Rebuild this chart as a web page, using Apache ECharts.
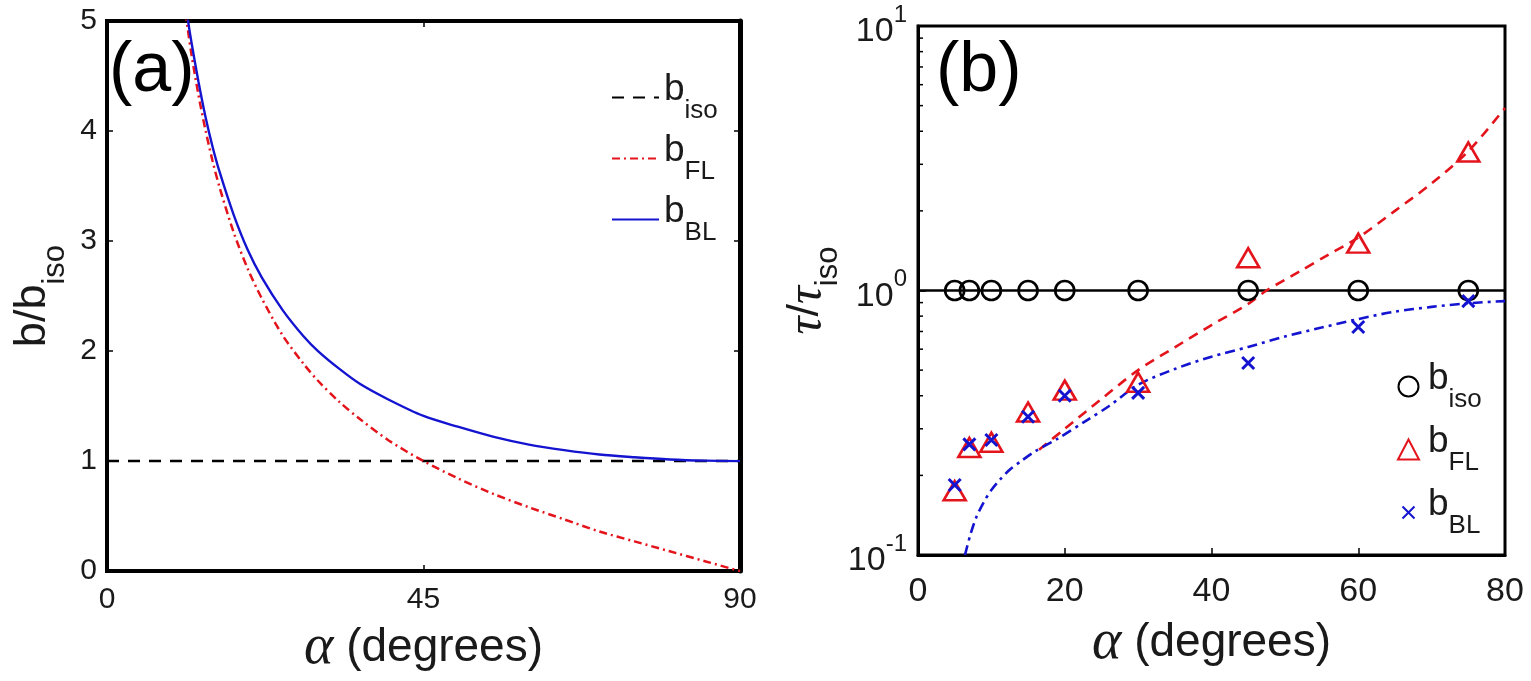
<!DOCTYPE html>
<html><head><meta charset="utf-8">
<script src="https://cdn.jsdelivr.net/npm/echarts@6/dist/echarts.min.js"></script>
<style>html,body{margin:0;padding:0;background:#fff}#c{width:1531px;height:681px}</style>
</head><body><div id="c"></div>
<script>
// ---------- Panel (a) data ----------
const alphaA = [10.5, 11, 11.5, 12, 13, 14, 15, 16, 18, 20, 22, 25, 28, 30, 33, 36, 40, 45, 50, 55, 60, 65, 70, 75, 80, 85, 90];
const bFL    = [5.40, 5.14, 4.92, 4.70, 4.33, 4.01, 3.73, 3.49, 3.08, 2.75, 2.48, 2.14, 1.88, 1.73, 1.54, 1.38, 1.19, 1.00, 0.84, 0.70, 0.58, 0.47, 0.36, 0.27, 0.18, 0.09, 0.00];
const bBL    = [5.49, 5.24, 5.01, 4.81, 4.45, 4.13, 3.86, 3.63, 3.24, 2.92, 2.67, 2.37, 2.13, 2.00, 1.84, 1.70, 1.56, 1.41, 1.31, 1.22, 1.15, 1.10, 1.06, 1.035, 1.015, 1.004, 1.00];
const isoAlphaA = [0, 90];
const bIso      = [1, 1];

// ---------- Panel (b) data ----------
const alphaB = [5, 7, 10, 15, 20, 30, 45, 60, 75];
const tauIso = [1, 1, 1, 1, 1, 1, 1, 1, 1];
const tauFL  = [0.175, 0.255, 0.267, 0.347, 0.42, 0.45, 1.33, 1.51, 3.34];
const tauBL  = [0.184, 0.262, 0.272, 0.333, 0.40, 0.41, 0.532, 0.728, 0.912];
const isoLineAlpha = [0, 80];
const isoLineTau   = [1, 1];
const fitAlphaFL = [16.5, 20, 24.8, 30, 35, 40, 45, 47.5, 52, 56, 60, 65, 70, 75, 80];
const fitFL      = [0.25, 0.30, 0.385, 0.50, 0.61, 0.74, 0.89, 1.0, 1.18, 1.37, 1.585, 2.0, 2.54, 3.36, 4.9];
const fitAlphaBL = [6.4, 7.2, 8, 9, 10, 11.2, 12.5, 14, 16, 19, 23, 26, 30, 35, 40, 45, 50, 55, 60, 65, 70, 75, 80];
const fitBL      = [0.10, 0.121, 0.140, 0.159, 0.176, 0.193, 0.210, 0.226, 0.247, 0.275, 0.323, 0.365, 0.44, 0.505, 0.562, 0.612, 0.67, 0.724, 0.78, 0.832, 0.867, 0.895, 0.912];
const logMinorTicks = [0.2, 0.3, 0.4, 0.5, 0.6, 0.7, 0.8, 0.9, 2, 3, 4, 5, 6, 7, 8, 9];

const F = '"Liberation Sans", Arial, Helvetica, sans-serif';
const SERIF = '"Liberation Serif", "Times New Roman", serif';
const RED = '#e3141c';
const BLUE = '#1414d0';
const TXT = '#1a1a1a';

const zip = (xs, ys) => xs.map((x, i) => [x, ys[i]]);

const chart = echarts.init(document.getElementById('c'), null, {renderer: 'canvas'});

const legendNames = {isoA: 'iso', flA: 'FL', blA: 'BL', isoB: 'iso', flB: 'FL', blB: 'BL'};

const subRich = (padLeft) => ({
  b: {fontSize: 37, fontFamily: F, color: TXT, lineHeight: 44, verticalAlign: 'top', padding: [0, 0, 0, padLeft]},
  s: {fontSize: 26, fontFamily: F, color: TXT, verticalAlign: 'bottom', padding: [27, 0, 0, 0]}
});

const nameStyle = {
  fontSize: 46, fontFamily: F, color: TXT,
  rich: {a: {fontSize: 56, fontFamily: SERIF, fontStyle: 'italic', color: TXT}}
};

const crossIcon = 'path://M0,0L0.01,0M20,20L20.01,20M4,4L16,16M16,4L4,16';

const option = {
  backgroundColor: '#fff',
  animation: false,
  grid: [
    {left: 107, top: 21, width: 633, height: 552, show: true, borderColor: '#000', borderWidth: 4, backgroundColor: 'transparent'},
    {left: 918, top: 26, width: 587, height: 529, show: true, borderColor: '#000', borderWidth: 3, backgroundColor: 'transparent'}
  ],
  graphic: [
    {type: 'text', left: 109, top: 37, style: {text: '(a)', font: '70px ' + F, fill: '#000'}},
    {type: 'text', left: 936, top: 37, style: {text: '(b)', font: '70px ' + F, fill: '#000'}}
  ],
  legend: [
    {
      data: ['isoA', 'flA', 'blA'],
      orient: 'vertical', left: 606, top: 66, itemWidth: 47, itemHeight: 14, itemGap: 8,
      selectedMode: false,
      itemStyle: {opacity: 0},
      formatter: n => '{b|b}{s|' + legendNames[n] + '}',
      textStyle: {rich: subRich(0)}
    },
    {
      data: [
        {name: 'isoB'},
        {name: 'flB'},
        {name: 'blB', icon: crossIcon}
      ],
      orient: 'vertical', left: 1392, top: 355, itemWidth: 21, itemHeight: 20, itemGap: 10,
      selectedMode: false,
      formatter: n => '{b|b}{s|' + legendNames[n] + '}',
      textStyle: {rich: subRich(4)}
    }
  ],
  xAxis: [
    {
      type: 'value', gridIndex: 0, min: 0, max: 90, interval: 45, position: 'bottom',
      axisLine: {show: true, onZero: false, lineStyle: {color: '#000', width: 4}},
      axisTick: {show: true, inside: true, length: 6, lineStyle: {color: '#000', width: 1.5}},
      axisLabel: {fontSize: 30, fontFamily: F, color: TXT, margin: 14},
      splitLine: {show: false},
      name: '{a|α} (degrees)', nameLocation: 'middle', nameGap: 42,
      nameTextStyle: nameStyle
    },
    {
      type: 'value', gridIndex: 0, min: 0, max: 90, interval: 45, position: 'top',
      axisLine: {show: true, onZero: false, lineStyle: {color: '#000', width: 4}},
      axisTick: {show: true, inside: true, length: 6, lineStyle: {color: '#000', width: 1.5}},
      axisLabel: {show: false}, splitLine: {show: false}
    },
    {
      type: 'value', gridIndex: 1, min: 0, max: 80, interval: 20, position: 'bottom',
      axisLine: {show: true, onZero: false, lineStyle: {color: '#000', width: 3}},
      axisTick: {show: true, inside: true, length: 7, lineStyle: {color: '#000', width: 1.5}},
      axisLabel: {fontSize: 34, fontFamily: F, color: TXT, margin: 20},
      splitLine: {show: false},
      name: '{a|α} (degrees)', nameLocation: 'middle', nameGap: 60,
      nameTextStyle: nameStyle
    }
  ],
  yAxis: [
    {
      type: 'value', gridIndex: 0, min: 0, max: 5, interval: 1, position: 'left',
      axisLine: {show: true, onZero: false, lineStyle: {color: '#000', width: 4}},
      axisTick: {show: true, inside: true, length: 6, lineStyle: {color: '#000', width: 1.5}},
      axisLabel: {fontSize: 30, fontFamily: F, color: TXT, margin: 10},
      splitLine: {show: false},
      name: '{m|b/b}{s|iso}', nameLocation: 'middle', nameGap: 36, nameRotate: 90,
      nameTextStyle: {
        rich: {
          m: {fontSize: 45, fontFamily: F, color: TXT, lineHeight: 50, verticalAlign: 'top'},
          s: {fontSize: 31, fontFamily: F, color: TXT, verticalAlign: 'bottom', padding: [30, 0, 0, 0]}
        }
      }
    },
    {
      type: 'value', gridIndex: 0, min: 0, max: 5, interval: 1, position: 'right',
      axisLine: {show: true, onZero: false, lineStyle: {color: '#000', width: 5}},
      axisTick: {show: true, inside: true, length: 6, lineStyle: {color: '#000', width: 1.5}},
      axisLabel: {show: false}, splitLine: {show: false}
    },
    {
      type: 'log', logBase: 10, gridIndex: 1, min: 0.1, max: 10, position: 'left',
      axisLine: {show: true, onZero: false, lineStyle: {color: '#000', width: 3}},
      axisTick: {show: true, inside: true, length: 8, lineStyle: {color: '#000', width: 1.5}},
      axisLabel: {
        fontFamily: F, color: TXT, margin: 11,
        formatter: v => '{m|10}{e|' + Math.round(Math.log10(v)) + '}',
        rich: {
          m: {fontSize: 34, fontFamily: F, color: TXT, lineHeight: 46, verticalAlign: 'bottom'},
          e: {fontSize: 24, fontFamily: F, color: TXT, lineHeight: 26, verticalAlign: 'top'}
        }
      },
      splitLine: {show: false}, minorTick: {show: false},
      name: '{t|τ}{m|/}{t|τ}{s|iso}', nameLocation: 'middle', nameGap: 62, nameRotate: 90,
      nameTextStyle: {
        rich: {
          t: {fontSize: 50, fontFamily: SERIF, fontStyle: 'italic', color: TXT, lineHeight: 50, verticalAlign: 'top'},
          m: {fontSize: 45, fontFamily: F, color: TXT, lineHeight: 50, verticalAlign: 'top'},
          s: {fontSize: 31, fontFamily: F, color: TXT, verticalAlign: 'bottom', padding: [30, 0, 0, 0]}
        }
      }
    }
  ],
  series: [
    // Panel (a)
    {name: 'isoA', type: 'line', xAxisIndex: 0, yAxisIndex: 0, data: zip(isoAlphaA, bIso), symbol: 'none',
      lineStyle: {color: '#000', width: 2.5, type: [12, 9]}, itemStyle: {color: '#000'}},
    {name: 'flA', type: 'line', xAxisIndex: 0, yAxisIndex: 0, data: zip(alphaA, bFL), symbol: 'none', smooth: 0.3,
      lineStyle: {color: RED, width: 2.5, type: [8, 4, 2, 4]}, itemStyle: {color: RED}},
    {name: 'blA', type: 'line', xAxisIndex: 0, yAxisIndex: 0, data: zip(alphaA, bBL), symbol: 'none', smooth: 0.3,
      lineStyle: {color: BLUE, width: 2.4}, itemStyle: {color: BLUE}},
    // Panel (b)
    {name: 'isoLineB', type: 'line', xAxisIndex: 2, yAxisIndex: 2, data: zip(isoLineAlpha, isoLineTau), symbol: 'none',
      lineStyle: {color: '#000', width: 2.4}, z: 2},
    {name: 'fitFLB', type: 'line', xAxisIndex: 2, yAxisIndex: 2, data: zip(fitAlphaFL, fitFL), symbol: 'none', smooth: 0.3,
      lineStyle: {color: RED, width: 2.6, type: [10, 7]}, z: 2},
    {name: 'fitBLB', type: 'line', xAxisIndex: 2, yAxisIndex: 2, data: zip(fitAlphaBL, fitBL), symbol: 'none', smooth: 0.3,
      lineStyle: {color: BLUE, width: 2.6, type: [10, 5, 3, 5]}, z: 2},
    {name: 'isoB', type: 'scatter', xAxisIndex: 2, yAxisIndex: 2, data: zip(alphaB, tauIso),
      symbol: 'circle', symbolSize: 19, itemStyle: {color: 'rgba(0,0,0,0)', borderColor: '#000', borderWidth: 2.6, opacity: 1}, z: 3},
    {name: 'flB', type: 'scatter', xAxisIndex: 2, yAxisIndex: 2, data: zip(alphaB, tauFL),
      symbol: 'triangle', symbolSize: [22, 19], itemStyle: {color: 'rgba(0,0,0,0)', borderColor: RED, borderWidth: 2.6, opacity: 1}, z: 3},
    {name: 'blB', type: 'scatter', xAxisIndex: 2, yAxisIndex: 2, data: zip(alphaB, tauBL),
      symbol: 'path://M0,0L10,10M10,0L0,10', symbolSize: 12, itemStyle: {color: 'rgba(0,0,0,0)', borderColor: BLUE, borderWidth: 3, opacity: 1}, z: 4},
    {name: 'minorTicksB', type: 'custom', xAxisIndex: 2, yAxisIndex: 2, silent: true, z: 5,
      data: logMinorTicks.map(v => [0, v]),
      renderItem: (params, api) => {
        const p = api.coord([api.value(0), api.value(1)]);
        return {type: 'line', shape: {x1: p[0], y1: p[1], x2: p[0] + 5, y2: p[1]}, style: {stroke: '#000', lineWidth: 1.5}};
      }
    }
  ]
};
chart.setOption(option);
</script>
</body></html>
